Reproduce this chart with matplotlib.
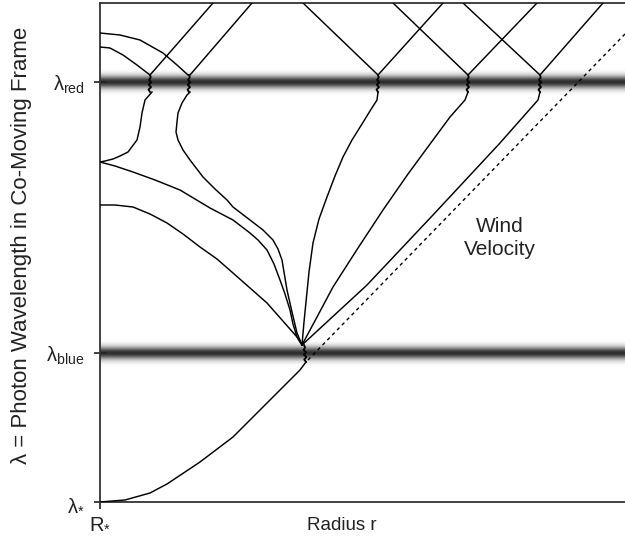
# -*- coding: utf-8 -*-
# photon paths in the co-moving frame of an accelerating wind
import numpy as np
import matplotlib
matplotlib.use('Agg')
import matplotlib.pyplot as plt

plt.rcParams['font.family'] = ['Liberation Sans', 'DejaVu Sans']
plt.rcParams['mathtext.fontset'] = 'custom'
plt.rcParams['mathtext.rm'] = 'Liberation Sans'
plt.rcParams['mathtext.it'] = 'Liberation Sans:italic'
plt.rcParams['mathtext.default'] = 'regular'

# ---------------- data (radius, wavelength in arbitrary units) ----------------
lam_blue = 149
lam_red = 420
r_max, lam_max = 525, 499

# wind velocity law from the stellar surface to the blue line
vel_r   = [0, 25, 50, 67, 100, 133, 170, 200, 206]
vel_lam = [0, 2, 9, 18, 40, 65, 102, 132, 140]

# dashed wind velocity
wind_r   = [208, 525]
wind_lam = [142, 468]

# paths leaving the blue line towards larger radius
out1_r   = [202, 204, 206, 209, 213, 219, 227, 235, 243, 252, 262, 270, 277, 278]
out1_lam = [157, 180, 200, 230, 259, 283, 305, 326, 345, 362, 378, 391, 402, 410]
out2_r   = [202, 217, 233, 258, 283, 308, 333, 350, 365, 368]
out2_lam = [157, 185, 215, 254, 292, 328, 362, 385, 402, 410]
out3_r   = [202, 267, 333, 400, 438, 440]
out3_lam = [157, 217, 287, 359, 402, 410]

# paths leaving the blue line towards the star
in1_r   = [202, 197, 192, 187, 184, 182, 178, 173, 163, 150, 133, 127, 115, 103,
           90, 83, 78, 76, 77, 78, 82, 87, 90]
in1_lam = [157, 169, 190, 212, 230, 242, 253, 262, 272, 282, 295, 302, 313, 325,
           342, 352, 362, 370, 380, 389, 399, 407, 410]
in2_r   = [202, 197, 193, 190, 185, 180, 174, 167, 158, 150, 133, 110, 80, 55, 33, 15, 0]
in2_lam = [157, 165, 178, 192, 208, 222, 238, 252, 262, 269, 282, 294, 312, 322, 330, 336, 340]
in3_r   = [202, 197, 182, 167, 150, 133, 117, 100, 83, 67, 50, 33, 15, 0]
in3_lam = [157, 165, 182, 199, 214, 229, 243, 255, 268, 279, 288, 295, 297, 297]
in4_r   = [0, 5, 13, 20, 28, 37, 40, 42, 45, 52]
in4_lam = [340, 341, 343, 346, 350, 362, 375, 389, 402, 410]

# paths above the red line
top1_r   = [0, 20, 40, 63, 77, 88]
top1_lam = [469, 467, 462, 449, 437, 427]
top2_r   = [0, 10, 23, 37, 50]
top2_lam = [455, 454, 447, 437, 427]

# red line scatterings: radius where each photon crosses the line
red_hits = [50, 89, 278, 368, 440]
# straight paths after the red line (start, end radius)
up_start = [50, 90, 278, 368, 440]
up_end   = [113, 152, 343, 437, 503]
down_start = [203, 293, 363]
down_end   = [278, 368, 440]

# ---------------- figure ----------------
fig = plt.figure(figsize=(6.25, 5.36), dpi=100)
ax = fig.add_axes([100/625, 34/536, 525/625, 499/536])
ax.set_xlim(0, r_max)
ax.set_ylim(0, lam_max)

# blurred absorption lines
prof = np.linspace(-1, 1, 60)
band = 1 - 0.82*np.exp(-(prof/0.45)**2)
for lam in (lam_blue, lam_red):
    ax.imshow(band[:, None], cmap='gray', vmin=0, vmax=1, aspect='auto',
              extent=(0, r_max, lam - 14, lam + 14), zorder=1,
              interpolation='bilinear')

kw = dict(color='k', lw=1.05, zorder=3)
ax.plot(vel_r, vel_lam, **kw)
ax.plot(wind_r, wind_lam, color='k', lw=1.0, ls=(0, (2.5, 2.5)), zorder=3)

for rr, ll in [(out1_r, out1_lam), (out2_r, out2_lam), (out3_r, out3_lam),
               (in1_r, in1_lam), (in2_r, in2_lam), (in3_r, in3_lam),
               (in4_r, in4_lam), (top1_r, top1_lam), (top2_r, top2_lam)]:
    ax.plot(rr, ll, **kw)

for r0, r1 in zip(up_start, up_end):
    ax.plot([r0, r1], [lam_red + 7, lam_max], **kw)
for r0, r1 in zip(down_start, down_end):
    ax.plot([r0, r1], [lam_max, lam_red + 7], **kw)

# jagged crossings through the lines
jag_dx = [0, -1.5, 1.0, -1.2, 1.2, -1.0, 0.8, 0]
jag_t = np.linspace(0, 1, len(jag_dx))
for r in red_hits:
    ax.plot(r + np.array(jag_dx), lam_red - 10 + 17*jag_t, color='k', lw=1.3, zorder=4)
ax.plot(np.array(jag_dx) + 204 + 2*(1 - jag_t), 140 + 17*jag_t, color='k', lw=1.3, zorder=4)

# axes
for s in ('left', 'bottom', 'top'):
    ax.spines[s].set_linewidth(1.3)
    ax.spines[s].set_color('#333333')
ax.spines['right'].set_visible(False)

ax.set_xticks([0])
ax.set_xticklabels([r'$R_{*}$'], fontsize=14.5)
ax.set_yticks([0, lam_blue, lam_red])
ax.set_yticklabels([r'$\lambda_{*}$', r'$\lambda_{blue}$', r'$\lambda_{red}$'], fontsize=14.5)
ax.tick_params(axis='y', direction='inout', length=8, width=1.2, pad=7, colors='#222222')
ax.tick_params(axis='x', direction='out', length=5, width=1.2, pad=3, colors='#222222')

ax.set_xlabel('Radius r', fontsize=13.5, color='#222222')
ax.xaxis.set_label_coords(0.46, -0.03)
ax.set_ylabel('λ = Photon Wavelength in Co-Moving Frame', fontsize=16, color='#222222')
ax.yaxis.set_label_coords(-0.13, 0.515)

ax.text(400, 264, 'Wind\nVelocity', fontsize=15, ha='center', va='center',
        linespacing=1.3, color='#222222')

fig.savefig('out.png', dpi=100)
